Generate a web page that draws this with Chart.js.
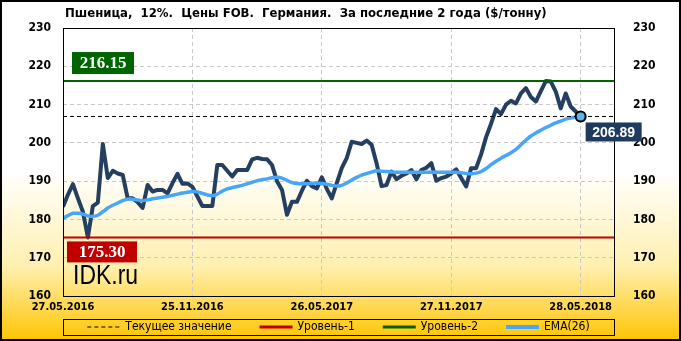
<!DOCTYPE html>
<html>
<head>
<meta charset="utf-8">
<script src="https://cdn.jsdelivr.net/npm/chart.js@4.4.0/dist/chart.umd.min.js"></script>
<style>
  html, body { margin: 0; padding: 0; background: #fff; }
</style>
</head>
<body>
<canvas id="chart" width="681" height="341"></canvas>
<script>
// Weekly FOB prices, 27.05.2016 .. 28.05.2018 (105 weeks)
var price = [
  183.3, 186.5, 189.2, 185.5, 182.0, 175.3, 183.5, 184.4, 199.7, 190.8,
  192.7, 192.0, 191.6, 185.5, 185.5, 184.5, 183.0, 189.0, 187.3, 187.7,
  187.7, 186.8, 189.5, 191.9, 189.3, 189.4, 188.5, 186.0, 183.5, 183.5,
  183.5, 194.2, 194.2, 192.7, 191.2, 192.9, 192.9, 192.9, 195.7, 196.1,
  195.8, 195.7, 194.2, 190.0, 187.7, 181.2, 184.6, 184.6, 187.5, 190.1,
  188.7, 188.1, 191.0, 188.0, 185.5, 189.5, 193.4, 196.0, 200.3, 200.0,
  199.7, 200.6, 199.5, 194.7, 188.7, 189.0, 192.5, 190.5, 191.4, 192.0,
  192.9, 190.5, 192.9, 193.5, 194.7, 190.1, 190.8, 191.2, 192.0, 193.1,
  190.8, 188.6, 193.4, 193.4, 197.0, 201.5, 205.0, 208.8, 207.5, 210.0,
  211.0, 210.3, 212.9, 214.3, 212.0, 210.8, 213.5, 216.15, 216.0, 213.4,
  209.0, 212.9, 209.5, 208.2, 206.89
];

// EMA(26) as drawn on the picture
var ema = [
  180.3, 181.0, 181.6, 181.6, 181.4, 180.9, 180.8, 181.1, 182.0, 183.0,
  183.7, 184.3, 184.9, 185.3, 185.3, 185.1, 184.9, 185.1, 185.4, 185.6,
  185.8, 186.0, 186.3, 186.6, 186.9, 187.1, 187.3, 187.2, 186.8, 186.4,
  186.2, 186.6, 187.4, 188.0, 188.3, 188.6, 188.9, 189.3, 189.7, 190.1,
  190.4, 190.6, 190.9, 191.0, 190.8, 190.2, 189.6, 189.4, 189.3, 189.3,
  189.4, 189.5, 189.4, 189.2, 188.9, 188.7, 188.9, 189.5, 190.3, 191.0,
  191.6, 192.0, 192.4, 192.7, 192.6, 192.5, 192.4, 192.3, 192.3, 192.3,
  192.3, 192.3, 192.3, 192.3, 192.3, 192.3, 192.3, 192.3, 192.3, 192.3,
  192.2, 192.0, 191.9, 192.1, 192.5, 193.3, 194.3, 195.2, 196.0, 196.7,
  197.4, 198.3, 199.5, 200.7, 201.8, 202.6, 203.3, 204.0, 204.6, 205.2,
  205.7, 206.2, 206.5, 206.7, 206.89
];

var tickIdx = [0, 26, 52, 78, 104];
var dateLabels = ['27.05.2016', '25.11.2016', '26.05.2017', '27.11.2017', '28.05.2018'];
var yMin = 160, yMax = 230, yStep = 10;
var level1 = 175.30;   // Уровень-1
var level2 = 216.15;   // Уровень-2
var lastIdx = price.length - 1;
var current = price[lastIdx];
var xMax = 110.7;

var title = 'Пшеница,  12%.  Цены FOB.  Германия.  За последние 2 года ($/тонну)';

var COND = '"DejaVu Sans Condensed", "DejaVu Sans", sans-serif';

function pts(arr) {
  return arr.map(function (v, i) { return { x: i, y: v }; });
}
function hline(v) {
  return [{ x: 0, y: v }, { x: xMax, y: v }];
}

// ===== DECORATIONS =====
var decor = {
  id: 'decor',
  beforeDraw: function (chart) {
    var ctx = chart.ctx, w = chart.width, h = chart.height;
    var g = ctx.createLinearGradient(0, 0, 0, h);
    g.addColorStop(0, '#ffffff');
    g.addColorStop(0.5, '#ffffff');
    g.addColorStop(0.78, '#fff0b0');
    g.addColorStop(1, '#ffc400');
    ctx.save();
    ctx.fillStyle = g;
    ctx.fillRect(0, 0, w, h);
    ctx.restore();
  },
  afterDatasetsDraw: function (chart) {
    var ctx = chart.ctx, a = chart.chartArea;
    var y = chart.scales.y, x = chart.scales.x;

    ctx.save();
    // plot frame
    ctx.strokeStyle = '#000';
    ctx.lineWidth = 1;
    ctx.strokeRect(Math.round(a.left) + 0.5, Math.round(a.top) + 0.5,
      Math.round(a.right - a.left), Math.round(a.bottom - a.top));

    // value tags
    var tag = function (text, bx, by, bw, bh, bg, font) {
      ctx.fillStyle = bg;
      ctx.fillRect(bx, by, bw, bh);
      ctx.fillStyle = '#fff';
      ctx.font = font;
      ctx.textAlign = 'center';
      ctx.textBaseline = 'middle';
      ctx.fillText(text, bx + bw / 2, by + bh / 2 + 1);
    };
    var serif = 'bold 17px "Liberation Serif", "Times New Roman", serif';
    tag(level2.toFixed(2), a.left + 9, y.getPixelForValue(level2) - 29, 62, 22, '#006400', serif);
    tag(level1.toFixed(2), a.left + 4, y.getPixelForValue(level1) + 4, 70, 21, '#c00000', serif);
    tag(current.toFixed(2), x.getPixelForValue(lastIdx) + 5, y.getPixelForValue(current) + 6, 56, 19,
      '#1f3a5f', 'bold 14px "Liberation Sans", Arial, sans-serif');

    // watermark (narrowed sans)
    ctx.fillStyle = '#000';
    ctx.font = '28px "Liberation Sans", Arial, sans-serif';
    ctx.textAlign = 'left';
    ctx.textBaseline = 'alphabetic';
    ctx.translate(a.left + 10, a.bottom - 12);
    ctx.scale(0.82, 1);
    ctx.fillText('IDK.ru', 0, 0);
    ctx.restore();
  },
  afterDraw: function (chart) {
    var ctx = chart.ctx, a = chart.chartArea;
    ctx.save();
    // title
    ctx.fillStyle = '#000';
    ctx.font = 'bold 13px ' + COND;
    ctx.textAlign = 'left';
    ctx.textBaseline = 'middle';
    ctx.fillText(title, a.left + 2, 14);

    // legend
    var items = chart.data.datasets.filter(function (d) { return d.inLegend; });
    ctx.font = '12px ' + COND;
    var sample = 33, gap = 5, spacing = 28;
    var total = 0;
    items.forEach(function (d, i) {
      total += sample + gap + ctx.measureText(d.label).width + (i ? spacing : 0);
    });
    var lx = (a.left + a.right) / 2 - total / 2;
    var ly = 327;
    items.forEach(function (d) {
      ctx.strokeStyle = d.borderColor;
      ctx.lineWidth = d.legendWidth || d.borderWidth;
      ctx.setLineDash(d.borderDash || []);
      ctx.beginPath();
      ctx.moveTo(lx, ly);
      ctx.lineTo(lx + sample, ly);
      ctx.stroke();
      ctx.setLineDash([]);
      ctx.fillStyle = '#000';
      ctx.textBaseline = 'middle';
      ctx.fillText(d.label, lx + sample + gap, ly);
      lx += sample + gap + ctx.measureText(d.label).width + spacing;
    });
    ctx.lineWidth = 1;
    ctx.strokeStyle = '#000';
    ctx.strokeRect(Math.round(a.left) + 0.5, 319.5, Math.round(a.right - a.left), 16);

    // outer border
    ctx.lineWidth = 2;
    ctx.strokeRect(1, 1, chart.width - 2, chart.height - 2);
    ctx.restore();
  }
};

var gridOpts = { color: '#c8c8c8', lineWidth: 1, drawTicks: false };
var dateFont = { family: COND, size: 11, weight: 'bold' };
var valueFont = { family: COND, size: 12, weight: 'bold' };

new Chart(document.getElementById('chart'), {
  type: 'line',
  data: {
    datasets: [
      {
        label: 'marker',
        data: [{ x: lastIdx, y: current }],
        showLine: false,
        pointRadius: 5,
        pointBackgroundColor: '#5db5e8',
        pointBorderColor: '#000',
        pointBorderWidth: 2
      },
      {
        label: 'Текущее значение',
        inLegend: true,
        data: hline(current),
        borderColor: '#000',
        borderWidth: 1,
        borderDash: [4, 3],
        pointRadius: 0
      },
      {
        label: 'Уровень-1',
        inLegend: true,
        data: hline(level1),
        borderColor: '#c00000',
        borderWidth: 2,
        legendWidth: 3,
        pointRadius: 0
      },
      {
        label: 'Уровень-2',
        inLegend: true,
        data: hline(level2),
        borderColor: '#006400',
        borderWidth: 2,
        legendWidth: 3,
        pointRadius: 0
      },
      {
        label: 'EMA(26)',
        inLegend: true,
        data: pts(ema),
        borderColor: '#48a6f8',
        borderWidth: 3.5,
        legendWidth: 4,
        pointRadius: 0,
        tension: 0.2
      },
      {
        label: 'Цена',
        data: pts(price),
        borderColor: '#243f60',
        borderWidth: 4,
        pointRadius: 0,
        borderJoinStyle: 'round'
      }
    ]
  },
  options: {
    responsive: false,
    animation: false,
    layout: { padding: { top: 28, left: 0, right: 0, bottom: 0 } },
    plugins: {
      legend: { display: false },
      tooltip: { enabled: false },
      title: { display: false }
    },
    scales: {
      x: {
        type: 'linear',
        min: 0,
        max: xMax,
        afterBuildTicks: function (s) {
          s.ticks = tickIdx.map(function (v) { return { value: v }; });
        },
        afterFit: function (s) { s.height = 45; },
        ticks: {
          autoSkip: false,
          maxRotation: 0,
          padding: 5,
          color: '#000',
          font: dateFont,
          callback: function (v) { return dateLabels[tickIdx.indexOf(v)]; }
        },
        grid: gridOpts,
        border: { display: false, dash: [4, 3] }
      },
      y: {
        position: 'left',
        min: yMin,
        max: yMax,
        afterFit: function (s) { s.width = 63; },
        ticks: { stepSize: yStep, padding: 12, color: '#000', font: valueFont },
        grid: gridOpts,
        border: { display: false, dash: [4, 3] }
      },
      y2: {
        position: 'right',
        min: yMin,
        max: yMax,
        afterFit: function (s) { s.width = 67; },
        ticks: { stepSize: yStep, padding: 11, color: '#000', font: valueFont },
        grid: { display: false },
        border: { display: false }
      }
    }
  },
  plugins: [decor]
});
</script>
</body>
</html>
